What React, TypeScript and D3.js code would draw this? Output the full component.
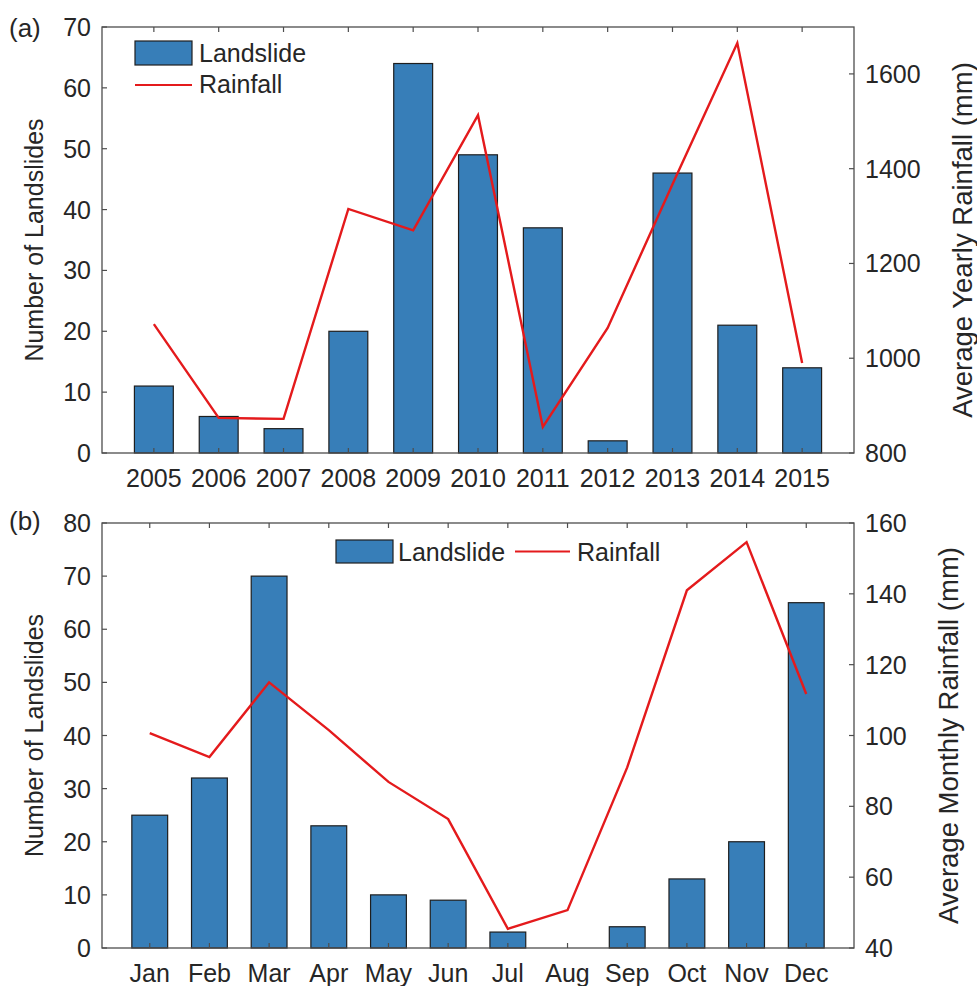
import React from "react";
import * as d3 from "d3";

// panel (a): yearly
const years = ["2005", "2006", "2007", "2008", "2009", "2010", "2011", "2012", "2013", "2014", "2015"];
const yearLandslides = [11, 6, 4, 20, 64, 49, 37, 2, 46, 21, 14];
const yearRainfall = [1072, 874, 872, 1315, 1270, 1513, 855, 1064, 1367, 1665, 990];
const yearLeftTicks = [0, 10, 20, 30, 40, 50, 60, 70];
const yearRightTicks = [800, 1000, 1200, 1400, 1600];

// panel (b): monthly
const months = ["Jan", "Feb", "Mar", "Apr", "May", "Jun", "Jul", "Aug", "Sep", "Oct", "Nov", "Dec"];
const monthLandslides = [25, 32, 70, 23, 10, 9, 3, 0, 4, 13, 20, 65];
const monthRainfall = [100.7, 93.9, 115, 101.5, 86.9, 76.4, 45.4, 50.7, 91, 141, 154.6, 111.7];
const monthLeftTicks = [0, 10, 20, 30, 40, 50, 60, 70, 80];
const monthRightTicks = [40, 60, 80, 100, 120, 140, 160];

const FONT = "'Liberation Sans', Arial, Helvetica, sans-serif";
const BAR = "#377eb8";
const RED = "#e41a1c";
const AXIS = "#4d4d4d";
const TEXT = "#262626";
const FS = 25;

interface PanelProps {
  tag: string;
  tagY: number;
  top: number;
  bottom: number;
  labels: string[];
  bars: number[];
  rain: number[];
  leftDomain: [number, number];
  rightDomain: [number, number];
  leftTicks: number[];
  rightTicks: number[];
  rightTitle: string;
  rightTitleX: number;
  legendRow: boolean;
}

const LEFT = 102;
const RIGHT = 854;

function Panel(p: PanelProps) {
  const n = p.labels.length;
  const x = d3.scaleLinear().domain([0.2, n + 0.8]).range([LEFT, RIGHT]);
  const yL = d3.scaleLinear().domain(p.leftDomain).range([p.bottom, p.top]);
  const yR = d3.scaleLinear().domain(p.rightDomain).range([p.bottom, p.top]);
  const bw = x(1.6) - x(1);
  const line = d3
    .line<number>()
    .x((_, i) => x(i + 1))
    .y((d) => yR(d));
  const mid = (p.top + p.bottom) / 2;

  return (
    <g fontFamily={FONT} fill={TEXT}>
      {p.bars.map((v, i) =>
        v > 0 ? (
          <rect
            key={i}
            x={x(i + 1) - bw / 2}
            y={yL(v)}
            width={bw}
            height={yL(0) - yL(v)}
            fill={BAR}
            stroke="#1e1e1e"
            strokeWidth={1.2}
          />
        ) : null
      )}
      <path d={line(p.rain) ?? ""} fill="none" stroke={RED} strokeWidth={2.4} strokeLinejoin="miter" />

      {/* box */}
      <rect x={LEFT} y={p.top} width={RIGHT - LEFT} height={p.bottom - p.top} fill="none" stroke={AXIS} strokeWidth={1.3} />

      {/* x ticks */}
      {p.labels.map((l, i) => (
        <g key={l}>
          <line x1={x(i + 1)} x2={x(i + 1)} y1={p.bottom} y2={p.bottom - 5} stroke={AXIS} strokeWidth={1.2} />
          <line x1={x(i + 1)} x2={x(i + 1)} y1={p.top} y2={p.top + 5} stroke={AXIS} strokeWidth={1.2} />
          <text x={x(i + 1)} y={p.bottom + 34} textAnchor="middle" fontSize={FS}>
            {l}
          </text>
        </g>
      ))}

      {/* left axis */}
      {p.leftTicks.map((t) => (
        <g key={"l" + t}>
          <line x1={LEFT} x2={LEFT + 5} y1={yL(t)} y2={yL(t)} stroke={AXIS} strokeWidth={1.2} />
          <text x={LEFT - 11} y={yL(t)} dy="0.36em" textAnchor="end" fontSize={FS}>
            {t}
          </text>
        </g>
      ))}
      <text transform={`translate(${43},${mid}) rotate(-90)`} textAnchor="middle" fontSize={FS}>
        Number of Landslides
      </text>

      {/* right axis */}
      {p.rightTicks.map((t) => (
        <g key={"r" + t}>
          <line x1={RIGHT} x2={RIGHT - 5} y1={yR(t)} y2={yR(t)} stroke={AXIS} strokeWidth={1.2} />
          <text x={RIGHT + 11} y={yR(t)} dy="0.36em" textAnchor="start" fontSize={FS}>
            {t}
          </text>
        </g>
      ))}
      <text transform={`translate(${p.rightTitleX},${mid}) rotate(-90)`} textAnchor="middle" fontSize={27.5}>
        {p.rightTitle}
      </text>

      <text x={9} y={p.tagY} fontSize={26}>
        {p.tag}
      </text>

      {/* legend */}
      {p.legendRow ? (
        <g>
          <rect x={336} y={p.top + 17} width={57} height={23} fill={BAR} stroke="#1e1e1e" strokeWidth={1.2} />
          <text x={398} y={p.top + 38} fontSize={FS}>
            Landslide
          </text>
          <line x1={515} x2={570} y1={p.top + 28.5} y2={p.top + 28.5} stroke={RED} strokeWidth={2} />
          <text x={577} y={p.top + 38} fontSize={FS}>
            Rainfall
          </text>
        </g>
      ) : (
        <g>
          <rect x={135} y={p.top + 14} width={57} height={24} fill={BAR} stroke="#1e1e1e" strokeWidth={1.2} />
          <text x={199} y={p.top + 35} fontSize={FS}>
            Landslide
          </text>
          <line x1={135} x2={192} y1={p.top + 58} y2={p.top + 58} stroke={RED} strokeWidth={2} />
          <text x={199} y={p.top + 66} fontSize={FS}>
            Rainfall
          </text>
        </g>
      )}
    </g>
  );
}

export default function App() {
  return (
    <svg width={977} height={986} style={{ position: "absolute", left: 0, top: 0, background: "#fff" }}>
      <Panel
        tag="(a)"
        tagY={37}
        top={27}
        bottom={453}
        labels={years}
        bars={yearLandslides}
        rain={yearRainfall}
        leftDomain={[0, 70]}
        rightDomain={[800, 1699]}
        leftTicks={yearLeftTicks}
        rightTicks={yearRightTicks}
        rightTitle="Average Yearly Rainfall (mm)"
        rightTitleX={972}
        legendRow={false}
      />
      <Panel
        tag="(b)"
        tagY={530}
        top={523}
        bottom={948}
        labels={months}
        bars={monthLandslides}
        rain={monthRainfall}
        leftDomain={[0, 80]}
        rightDomain={[40, 160]}
        leftTicks={monthLeftTicks}
        rightTicks={monthRightTicks}
        rightTitle="Average Monthly Rainfall (mm)"
        rightTitleX={958}
        legendRow={true}
      />
    </svg>
  );
}
